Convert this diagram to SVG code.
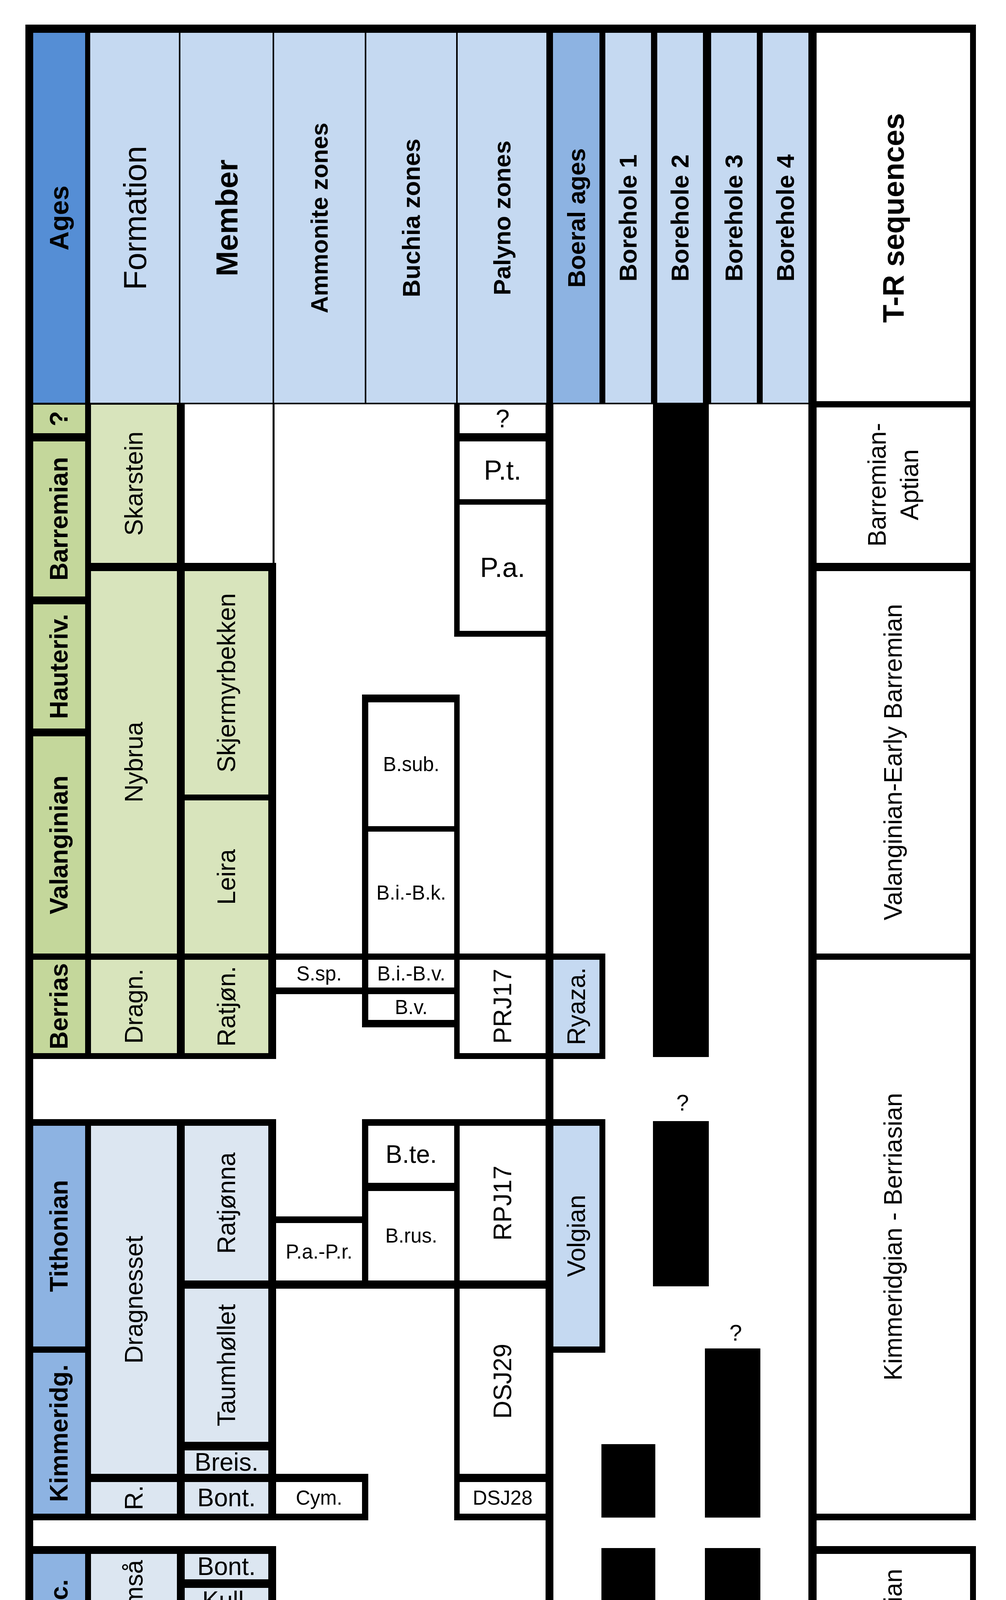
<svg xmlns="http://www.w3.org/2000/svg" width="2576" height="4464" viewBox="0 0 2576 4464">
<style>
text{font-family:"Liberation Sans",Arial,sans-serif;fill:#000;text-anchor:middle;dominant-baseline:central}
.b{font-weight:bold}
.s64{font-size:64px}.s50{font-size:51px}.s70{font-size:70px}
.k{fill:#000}
.hd{fill:#558ed5}.hb{fill:#8db3e2}.hl{fill:#c5d9f1}
.ga{fill:#c4d79b}.gf{fill:#d8e4bc}
.ba{fill:#8db3e2}.bf{fill:#dce6f1}
.w{fill:#fff}.pk{fill:#da9694}
</style>
<rect width="2576" height="4464" fill="#fff"/>
<!-- frame -->
<rect class="k" x="65" y="63" width="2434" height="4339"/>
<rect class="w" x="85" y="1035" width="2399" height="3350"/>
<!-- header -->
<g id="header">
<rect class="hd" x="85" y="84" width="133" height="947"/>
<rect class="hl" x="231" y="84" width="227" height="947"/>
<rect class="hl" x="462" y="84" width="236" height="947"/>
<rect class="hl" x="702" y="84" width="232" height="947"/>
<rect class="hl" x="938" y="84" width="230" height="947"/>
<rect class="hl" x="1172" y="84" width="227" height="947"/>
<rect class="hb" x="1416" y="84" width="119" height="947"/>
<rect class="hl" x="1550" y="84" width="117" height="947"/>
<rect class="hl" x="1683" y="84" width="117" height="947"/>
<rect class="hl" x="1821" y="84" width="117" height="947"/>
<rect class="hl" x="1953" y="84" width="117" height="947"/>
<rect class="w" x="2091" y="84" width="393" height="943"/>
<text class="b" font-size="68" transform="translate(151,558) rotate(-90)">Ages</text>
<text font-size="82" transform="translate(345,558) rotate(-90)">Formation</text>
<text class="b" font-size="78" transform="translate(581,558) rotate(-90)">Member</text>
<text class="b" font-size="61" transform="translate(818,558) rotate(-90)">Ammonite zones</text>
<text class="b" font-size="63" transform="translate(1053,558) rotate(-90)">Buchia zones</text>
<text class="b" font-size="62" transform="translate(1285,558) rotate(-90)">Palyno zones</text>
<text class="b" font-size="63" transform="translate(1476,558) rotate(-90)">Boeral ages</text>
<text class="b" font-size="63" transform="translate(1608,558) rotate(-90)">Borehole 1</text>
<text class="b" font-size="63" transform="translate(1741,558) rotate(-90)">Borehole 2</text>
<text class="b" font-size="63" transform="translate(1879,558) rotate(-90)">Borehole 3</text>
<text class="b" font-size="63" transform="translate(2011,558) rotate(-90)">Borehole 4</text>
<text class="b" font-size="76" transform="translate(2287,558) rotate(-90)">T-R sequences</text>
</g>
<g id="connectors">
<rect class="k" x="698" y="1035" width="5" height="406"/>
<rect class="k" x="1397" y="1035" width="20" height="3350"/>
<rect class="k" x="2070" y="1027" width="21" height="3358"/>
<rect class="k" x="2070" y="1027" width="429" height="16"/>
</g>
<!-- Cretaceous left block -->
<g id="ages-cretaceous">
<rect class="k" x="65" y="1031" width="168" height="1680"/>
<rect class="ga" x="85" y="1036" width="133" height="73"/>
<rect class="ga" x="85" y="1130" width="133" height="397"/>
<rect class="ga" x="85" y="1547" width="133" height="318"/>
<rect class="ga" x="85" y="1885" width="133" height="556"/>
<rect class="ga" x="85" y="2457" width="133" height="239"/>
<text class="b s64" transform="translate(151,1072) rotate(-90)">?</text>
<text class="b s64" transform="translate(151,1328) rotate(-90)">Barremian</text>
<text class="b s64" transform="translate(151,1706) rotate(-90)">Hauteriv.</text>
<text class="b s64" transform="translate(151,2163) rotate(-90)">Valanginian</text>
<text class="b s64" transform="translate(151,2576) rotate(-90)">Berrias</text>
</g>
<g id="formation-cretaceous">
<rect class="k" x="218" y="1031" width="255" height="1680"/>
<rect class="gf" x="233" y="1036" width="220" height="405"/>
<rect class="gf" x="233" y="1462" width="220" height="979"/>
<rect class="gf" x="233" y="2457" width="220" height="239"/>
<text class="s64" transform="translate(343,1238) rotate(-90)">Skarstein</text>
<text class="s64" transform="translate(343,1951) rotate(-90)">Nybrua</text>
<text class="s64" transform="translate(343,2576) rotate(-90)">Dragn.</text>
</g>
<g id="member-cretaceous">
<rect class="k" x="453" y="1441" width="254" height="1270"/>
<rect class="gf" x="473" y="1462" width="214" height="572"/>
<rect class="gf" x="473" y="2049" width="214" height="392"/>
<rect class="gf" x="473" y="2457" width="214" height="239"/>
<text class="s64" transform="translate(580,1748) rotate(-90)">Skjermyrbekken</text>
<text class="s64" transform="translate(580,2245) rotate(-90)">Leira</text>
<text class="s64" transform="translate(580,2576) rotate(-90)">Ratjøn.</text>
</g>
<g id="ammonite-ssp">
<rect class="k" x="687" y="2441" width="256" height="104"/>
<rect class="w" x="707" y="2457" width="220" height="71"/>
<text class="s50" x="817" y="2492">S.sp.</text>
</g>
<g id="buchia-cretaceous">
<rect class="k" x="927" y="1778" width="250" height="852"/>
<rect class="w" x="943" y="1798" width="220" height="317"/>
<rect class="w" x="943" y="2129" width="220" height="312"/>
<rect class="w" x="943" y="2457" width="220" height="71"/>
<rect class="w" x="943" y="2545" width="220" height="66"/>
<text class="s50" x="1053" y="1956">B.sub.</text>
<text class="s50" x="1053" y="2285">B.i.-B.k.</text>
<text class="s50" x="1053" y="2492">B.i.-B.v.</text>
<text class="s50" x="1053" y="2578">B.v.</text>
</g>
<g id="palyno-cretaceous">
<rect class="k" x="1163" y="1031" width="254" height="599"/>
<rect class="w" x="1177" y="1036" width="220" height="73"/>
<rect class="w" x="1177" y="1130" width="220" height="148"/>
<rect class="w" x="1177" y="1292" width="220" height="323"/>
<text class="s64" x="1287" y="1072">?</text>
<text class="s70" x="1287" y="1204">P.t.</text>
<text class="s70" x="1287" y="1453">P.a.</text>
<rect class="k" x="1163" y="2441" width="254" height="270"/>
<rect class="w" x="1177" y="2457" width="220" height="239"/>
<text class="s64" transform="translate(1287,2576) rotate(-90)">PRJ17</text>
</g>
<g id="boreal-ryaza">
<rect class="k" x="1397" y="2441" width="153" height="270"/>
<rect class="hl" x="1417" y="2457" width="118" height="239"/>
<text class="s64" transform="translate(1476,2576) rotate(-90)">Ryaza.</text>
</g>
<!-- Jurassic -->
<g id="ages-jurassic">
<rect class="k" x="65" y="2865" width="168" height="1027"/>
<rect class="ba" x="85" y="2882" width="133" height="565"/>
<rect class="ba" x="85" y="3463" width="133" height="412"/>
<text class="b s64" transform="translate(151,3164) rotate(-90)">Tithonian</text>
<text class="b s64" transform="translate(151,3669) rotate(-90)">Kimmeridg.</text>
</g>
<g id="formation-member-jurassic">
<rect class="k" x="218" y="2865" width="489" height="1027"/>
<rect class="bf" x="233" y="2882" width="220" height="891"/>
<rect class="bf" x="233" y="3794" width="220" height="81"/>
<rect class="bf" x="473" y="2882" width="214" height="396"/>
<rect class="bf" x="473" y="3299" width="214" height="392"/>
<rect class="bf" x="473" y="3713" width="214" height="60"/>
<rect class="bf" x="473" y="3794" width="214" height="81"/>
<text class="s64" transform="translate(343,3327) rotate(-90)">Dragnesset</text>
<text class="s64" transform="translate(343,3834) rotate(-90)">R.</text>
<text class="s64" transform="translate(580,3080) rotate(-90)">Ratjønna</text>
<text class="s64" transform="translate(580,3495) rotate(-90)">Taumhøllet</text>
<text class="s64" x="580" y="3743">Breis.</text>
<text class="s64" x="580" y="3834">Bont.</text>
</g>
<g id="ammonite-jurassic">
<rect class="k" x="687" y="3114" width="256" height="185"/>
<rect class="w" x="707" y="3131" width="220" height="147"/>
<text class="s50" x="817" y="3204">P.a.-P.r.</text>
<rect class="k" x="687" y="3773" width="256" height="119"/>
<rect class="w" x="707" y="3794" width="220" height="81"/>
<text class="s50" x="817" y="3834">Cym.</text>
</g>
<g id="buchia-jurassic">
<rect class="k" x="927" y="2865" width="250" height="434"/>
<rect class="w" x="943" y="2882" width="220" height="146"/>
<rect class="w" x="943" y="3049" width="220" height="229"/>
<text class="s64" x="1053" y="2955">B.te.</text>
<text class="s50" x="1053" y="3163">B.rus.</text>
</g>
<g id="palyno-jurassic">
<rect class="k" x="1163" y="2865" width="254" height="1027"/>
<rect class="w" x="1177" y="2882" width="220" height="396"/>
<rect class="w" x="1177" y="3299" width="220" height="474"/>
<rect class="w" x="1177" y="3794" width="220" height="81"/>
<text class="s64" transform="translate(1287,3080) rotate(-90)">RPJ17</text>
<text class="s64" transform="translate(1287,3536) rotate(-90)">DSJ29</text>
<text class="s50" x="1287" y="3834">DSJ28</text>
</g>
<g id="boreal-volgian">
<rect class="k" x="1397" y="2865" width="153" height="598"/>
<rect class="hl" x="1417" y="2882" width="118" height="565"/>
<text class="s64" transform="translate(1476,3164) rotate(-90)">Volgian</text>
</g>
<g id="bajocian-left">
<rect class="k" x="65" y="3958" width="642" height="361"/>
<rect class="ba" x="85" y="3978" width="133" height="322"/>
<rect class="bf" x="233" y="3978" width="220" height="235"/>
<rect class="bf" x="233" y="4233" width="454" height="67"/>
<rect class="bf" x="473" y="3978" width="214" height="65"/>
<rect class="bf" x="473" y="4065" width="214" height="65"/>
<rect class="bf" x="473" y="4146" width="214" height="67"/>
<text class="b s64" transform="translate(151,4139) rotate(-90)">Bajoc.</text>
<text class="s64" transform="translate(343,4095) rotate(-90)">Ramså</text>
<text class="s64" x="460" y="4266">Base. congl.</text>
<text class="s64" x="580" y="4010">Bont.</text>
<text class="s64" x="580" y="4097">Kull.</text>
<text class="s64" x="580" y="4180">Hest.</text>
</g>
<g id="basement">
<rect class="k" x="65" y="4300" width="1352" height="102"/>
<rect class="pk" x="85" y="4319" width="1312" height="66"/>
<text font-size="58" x="741" y="4352">Basement</text>
</g>
<g id="boreholes">
<rect class="k" x="1672" y="1035" width="143" height="1671"/>
<rect class="k" x="1672" y="2870" width="143" height="423"/>
<rect class="k" x="1805" y="3452" width="142" height="433"/>
<rect class="k" x="1540" y="3697" width="138" height="188"/>
<rect class="k" x="1540" y="3963" width="138" height="439"/>
<rect class="k" x="1805" y="3963" width="142" height="439"/>
<rect class="k" x="1540" y="4305" width="551" height="97"/>
<text font-size="58" x="1748" y="2822">?</text>
<text font-size="58" x="1884" y="3411">?</text>
</g>
<g id="tr-sequences">
<rect class="k" x="2091" y="1441" width="393" height="21"/>
<rect class="k" x="2091" y="2441" width="393" height="16"/>
<rect class="k" x="2091" y="3875" width="408" height="17"/>
<rect class="w" x="2091" y="3892" width="408" height="66"/>
<rect class="k" x="2091" y="3958" width="408" height="20"/>
<rect class="k" x="2091" y="4300" width="393" height="19"/>
<rect class="pk" x="2091" y="4319" width="393" height="66"/>
<text class="s64" transform="translate(2287,1241) rotate(-90)"><tspan x="0" dy="-41">Barremian-</tspan><tspan x="0" dy="83">Aptian</tspan></text>
<text class="s64" transform="translate(2287,1951) rotate(-90)">Valanginian-Early Barremian</text>
<text class="s64" transform="translate(2287,3166) rotate(-90)">Kimmeridgian - Berriasian</text>
<text class="s64" transform="translate(2287,4139) rotate(-90)">Bajocian</text>
</g>
</svg>
